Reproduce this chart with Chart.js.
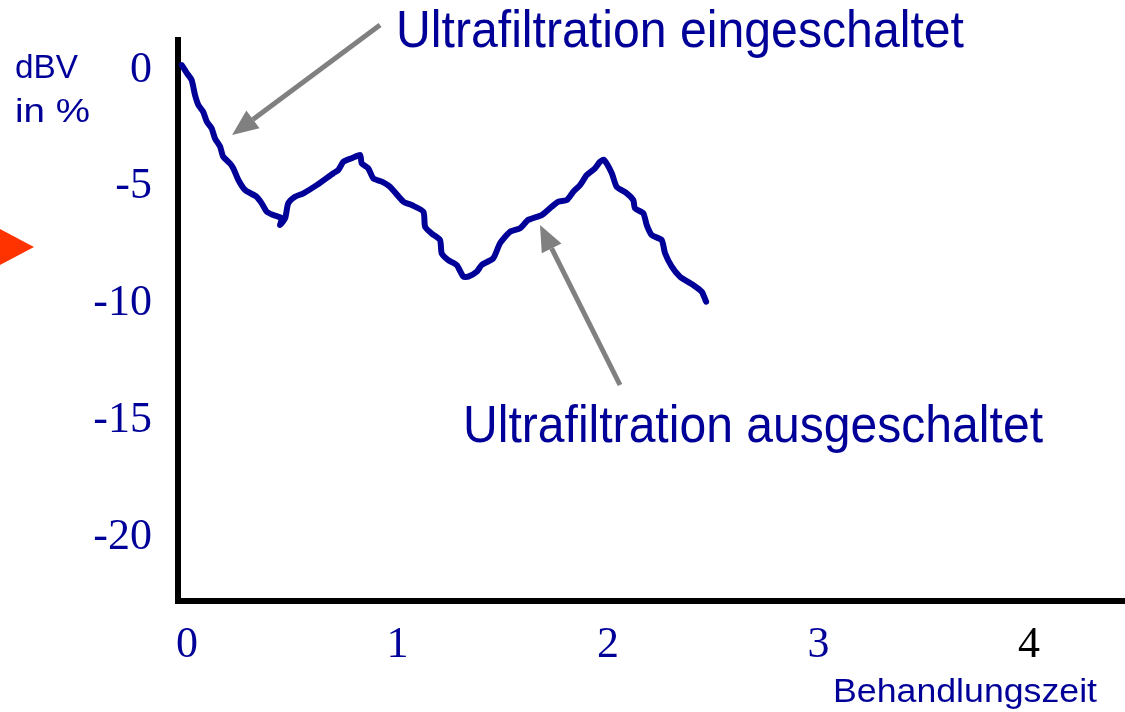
<!DOCTYPE html>
<html>
<head>
<meta charset="utf-8">
<script src="https://cdn.jsdelivr.net/npm/chart.js@4.4.1/dist/chart.umd.min.js"></script>
<style>
  html, body { margin: 0; padding: 0; background: #fff; }
  #wrap { width: 1125px; height: 712px; position: relative; }
</style>
</head>
<body>
<div id="wrap"><canvas id="dbvChart"></canvas></div>
<script>
// -----------------------------
// Data
// -----------------------------
const timeValues = [
  -0.025, 0.0, 0.022, 0.038, 0.054, 0.077, 0.094, 0.117, 0.133, 0.157,
  0.172, 0.204, 0.220, 0.244, 0.276, 0.331, 0.355, 0.379, 0.410, 0.450,
  0.442, 0.466, 0.481, 0.513, 0.553, 0.616, 0.695, 0.719, 0.743, 0.782,
  0.822, 0.830, 0.861, 0.885, 0.925, 0.964, 1.028, 1.067, 1.123, 1.131,
  1.162, 1.202, 1.210, 1.241, 1.281, 1.313, 1.336, 1.376, 1.400, 1.455,
  1.487, 1.534, 1.582, 1.621, 1.685, 1.733, 1.764, 1.804, 1.835, 1.867,
  1.899, 1.938, 1.962, 1.981, 2.018, 2.041, 2.089, 2.120, 2.128, 2.168,
  2.184, 2.208, 2.255, 2.271, 2.303, 2.342, 2.405, 2.445, 2.466
];
const dbvValues = [
  0.21, -0.14, -0.43, -1.07, -1.50, -1.79, -2.21, -2.50, -2.93, -3.28,
  -3.71, -4.00, -4.21, -4.71, -5.14, -5.43, -5.71, -6.07, -6.21, -6.35,
  -6.64, -6.35, -5.71, -5.43, -5.28, -4.93, -4.42, -4.28, -3.93, -3.78,
  -3.64, -4.00, -4.21, -4.64, -4.78, -5.00, -5.64, -5.78, -6.07, -6.71,
  -7.00, -7.28, -7.85, -8.14, -8.35, -8.85, -8.85, -8.64, -8.35, -8.06,
  -7.42, -6.93, -6.78, -6.42, -6.21, -5.85, -5.64, -5.57, -5.21, -4.93,
  -4.50, -4.21, -3.93, -3.85, -4.42, -5.00, -5.28, -5.57, -5.92, -6.14,
  -6.64, -7.07, -7.28, -7.85, -8.42, -8.85, -9.21, -9.49, -9.92
];
const xTickValues = [0, 1, 2, 3, 4];
const yTickValues = [-20, -15, -10, -5, 0];

const NAVY = "#000099";

// arrows: tail and tip in data coordinates
const arrows = [
  { from: [0.917, 1.93], to: [0.214, -2.78] },
  { from: [2.057, -13.49], to: [1.677, -6.64] }
];

function fitText(ctx, text, x, y, size, family, width, color) {
  ctx.save();
  ctx.font = `${size}px ${family}`;
  const w = ctx.measureText(text).width;
  ctx.translate(x, y);
  ctx.scale(width / w, 1);
  ctx.fillStyle = color;
  ctx.textBaseline = "alphabetic";
  ctx.textAlign = "left";
  ctx.fillText(text, 0, 0);
  ctx.restore();
}

function drawArrow(ctx, x1, y1, x2, y2) {
  const ang = Math.atan2(y2 - y1, x2 - x1);
  const headLen = 26, headW = 11;
  const bx = x2 - Math.cos(ang) * headLen;
  const by = y2 - Math.sin(ang) * headLen;
  ctx.save();
  ctx.strokeStyle = "#808080";
  ctx.fillStyle = "#808080";
  ctx.lineWidth = 5;
  ctx.beginPath();
  ctx.moveTo(x1, y1);
  ctx.lineTo(bx, by);
  ctx.stroke();
  ctx.beginPath();
  ctx.moveTo(x2, y2);
  ctx.lineTo(bx + Math.sin(ang) * headW, by - Math.cos(ang) * headW);
  ctx.lineTo(bx - Math.sin(ang) * headW, by + Math.cos(ang) * headW);
  ctx.closePath();
  ctx.fill();
  ctx.restore();
}

const decorations = {
  id: "decorations",
  afterDraw(chart) {
    const ctx = chart.ctx;
    const xs = chart.scales.x, ys = chart.scales.y;
    arrows.forEach(a => {
      drawArrow(ctx,
        xs.getPixelForValue(a.from[0]), ys.getPixelForValue(a.from[1]),
        xs.getPixelForValue(a.to[0]), ys.getPixelForValue(a.to[1]));
    });
    const sans = "'Liberation Sans', Arial, sans-serif";
    fitText(ctx, "Ultrafiltration eingeschaltet", 396, 47, 52, sans, 568, NAVY);
    fitText(ctx, "Ultrafiltration ausgeschaltet", 463, 442, 52, sans, 580, NAVY);
    fitText(ctx, "Behandlungszeit", 833, 702, 34, sans, 264, NAVY);
    fitText(ctx, "dBV", 15, 78, 33, sans, 63, NAVY);
    fitText(ctx, "in %", 15, 122, 33, sans, 75, NAVY);

    // red pointer at the left edge
    ctx.save();
    ctx.fillStyle = "#ff3300";
    ctx.beginPath();
    ctx.moveTo(0, 229);
    ctx.lineTo(34, 247);
    ctx.lineTo(0, 265);
    ctx.closePath();
    ctx.fill();
    ctx.restore();
  }
};

const chartCtx = document.getElementById("dbvChart").getContext("2d");
const dbvChart = new Chart(chartCtx, {
  type: "line",
  data: {
    datasets: [{
      label: "dBV",
      data: timeValues.map((t, i) => ({ x: t, y: dbvValues[i] })),
      borderColor: NAVY,
      borderWidth: 6,
      borderJoinStyle: "round",
      borderCapStyle: "round",
      pointRadius: 0,
      tension: 0.2,
      fill: false
    }]
  },
  options: {
    responsive: true,
    maintainAspectRatio: false,
    animation: false,
    layout: { padding: { top: 40, left: 0, right: 0, bottom: 0 } },
    plugins: {
      legend: { display: false },
      tooltip: { enabled: false }
    },
    scales: {
      x: {
        type: "linear",
        min: -0.0428,
        max: 4.456,
        afterBuildTicks: scale => { scale.ticks = xTickValues.map(v => ({ value: v })); },
        afterFit: scale => { scale.height = 111; },
        grid: { display: false, drawTicks: false },
        border: { display: true, color: "#000", width: 6 },
        ticks: {
          padding: 18,
          font: { family: "'Liberation Serif', 'Times New Roman', serif", size: 44 },
          color: c => (c.tick && c.tick.value === 4 ? "#000" : NAVY),
          callback: v => String(v)
        }
      },
      y: {
        type: "linear",
        min: -22.74,
        max: 1.285,
        afterBuildTicks: scale => { scale.ticks = yTickValues.map(v => ({ value: v })); },
        afterFit: scale => { scale.width = 178; scale.paddingTop = 0; },
        grid: { display: false, drawTicks: false },
        border: { display: true, color: "#000", width: 6 },
        ticks: {
          padding: 26,
          font: { family: "'Liberation Serif', 'Times New Roman', serif", size: 44 },
          color: NAVY,
          callback: v => String(v)
        }
      }
    }
  },
  plugins: [decorations]
});
</script>
</body>
</html>
